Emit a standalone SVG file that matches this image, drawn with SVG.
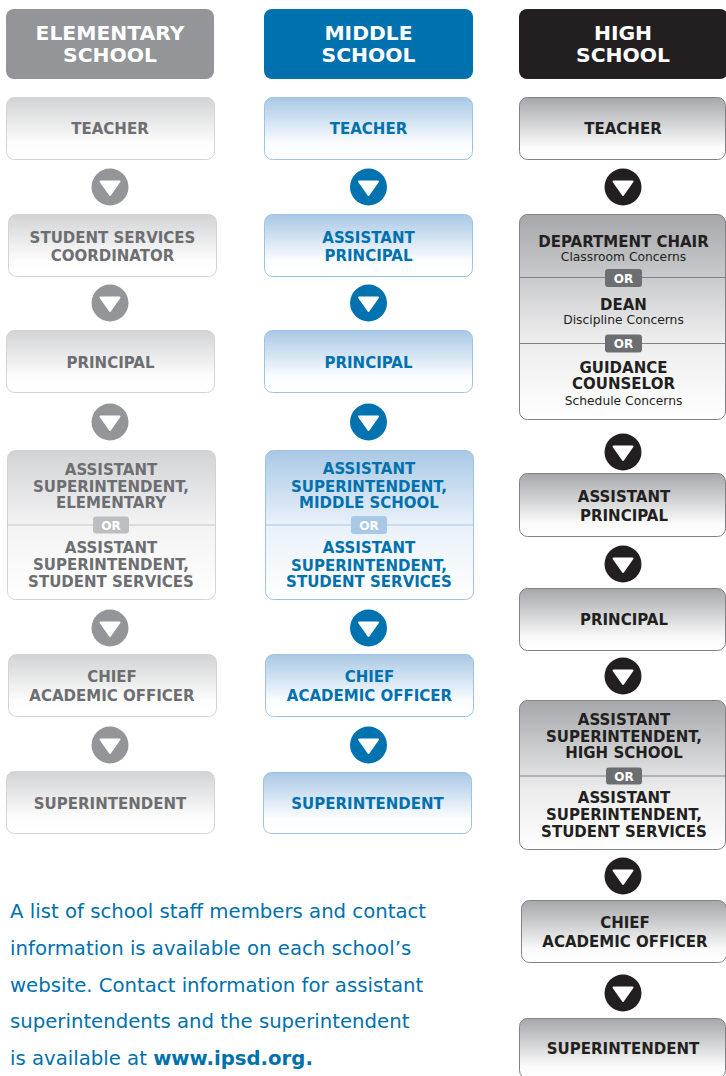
<svg xmlns="http://www.w3.org/2000/svg" width="726" height="1076" viewBox="0 0 726 1076">
<defs>
<linearGradient id="gE" x1="0" y1="0" x2="0" y2="1"><stop offset="0" stop-color="#d2d3d5"/><stop offset="0.75" stop-color="#fdfdfd"/><stop offset="1" stop-color="#ffffff"/></linearGradient>
<linearGradient id="gM" x1="0" y1="0" x2="0" y2="1"><stop offset="0" stop-color="#a9c8e5"/><stop offset="0.75" stop-color="#fbfdff"/><stop offset="1" stop-color="#ffffff"/></linearGradient>
<linearGradient id="gH" x1="0" y1="0" x2="0" y2="1"><stop offset="0" stop-color="#a5a7aa"/><stop offset="0.8" stop-color="#fbfbfb"/><stop offset="1" stop-color="#ffffff"/></linearGradient>
<linearGradient id="gE2" x1="0" y1="0" x2="0" y2="1"><stop offset="0" stop-color="#d2d3d5"/><stop offset="0.5" stop-color="#f3f3f4"/><stop offset="1" stop-color="#ffffff"/></linearGradient>
<linearGradient id="gM2" x1="0" y1="0" x2="0" y2="1"><stop offset="0" stop-color="#a9c8e5"/><stop offset="0.5" stop-color="#e9f1f9"/><stop offset="1" stop-color="#ffffff"/></linearGradient>
<linearGradient id="gH2" x1="0" y1="0" x2="0" y2="1"><stop offset="0" stop-color="#a5a7aa"/><stop offset="0.6" stop-color="#ececed"/><stop offset="1" stop-color="#ffffff"/></linearGradient>
<path id="tri" d="M -9.5 -5.5 L 9.5 -5.5 L 0 8 Z" fill="#fff" stroke="#fff" stroke-width="2" stroke-linejoin="round"/>
</defs>
<style>
text{font-family:"DejaVu Sans",Verdana,sans-serif;text-anchor:middle;font-weight:bold}
.h{font-size:20.3px;fill:#fff}
.n{font-size:15px}
.s{font-size:12.3px;font-weight:normal}
.or{font-size:12px;fill:#fff}
.e text{fill:#6d6e71}
.m text{fill:#0071ad}
.k text{fill:#231f20}
.e .bx{fill:url(#gE);stroke:#d1d3d4}
.m .bx{fill:url(#gM);stroke:#9cc3e5}
.k .bx{fill:url(#gH);stroke:#808285}
.e .bx2{fill:url(#gE2);stroke:#d1d3d4}
.m .bx2{fill:url(#gM2);stroke:#9cc3e5}
.k .bx2{fill:url(#gH2);stroke:#808285}
.e .dv{stroke:#c7c8ca}
.m .dv{stroke:#a9c8e5}
.k .dv{stroke:#808285}
.e .ob{fill:#bcbec0}
.m .ob{fill:#a7c9e6}
.k .ob{fill:#6d6e71}
.e text.or,.m text.or,.k text.or,text.h{fill:#fff}
.ce{fill:#939598}
.cm{fill:#0072b0}
.ck{fill:#231f20}
.ft{font-family:"DejaVu Sans",Tahoma,sans-serif;font-size:19.7px;font-weight:normal;text-anchor:start;fill:#0071ad}
</style>
<rect width="726" height="1076" fill="#fff"/>

<!-- Elementary -->
<g class="e">
<g id="e-head"><rect x="6" y="9" width="208" height="70" rx="8" fill="#939598"/><text class="h" x="110" y="40">ELEMENTARY</text><text class="h" x="110" y="61.5">SCHOOL</text></g>
<g id="e-teacher"><rect class="bx" x="6.5" y="97.5" width="208" height="62" rx="8"/><text class="n" x="110" y="134">TEACHER</text></g>
<g id="e-ssc"><rect class="bx" x="8.5" y="214.5" width="208" height="62" rx="8"/><text class="n" x="112.5" y="243">STUDENT SERVICES</text><text class="n" x="112.5" y="261">COORDINATOR</text></g>
<g id="e-principal"><rect class="bx" x="6.5" y="330.5" width="208" height="62" rx="8"/><text class="n" x="110.5" y="368">PRINCIPAL</text></g>
<g id="e-as"><rect class="bx2" x="7.5" y="450.5" width="208" height="149" rx="8"/><line class="dv" x1="7.5" y1="525" x2="215.5" y2="525"/><rect class="ob" x="93" y="516.5" width="36" height="17" rx="3"/><text class="or" x="111" y="530">OR</text>
<text class="n" x="111" y="475">ASSISTANT</text><text class="n" x="111" y="492">SUPERINTENDENT,</text><text class="n" x="111" y="508">ELEMENTARY</text>
<text class="n" x="111" y="553">ASSISTANT</text><text class="n" x="111" y="570">SUPERINTENDENT,</text><text class="n" x="111" y="587">STUDENT SERVICES</text></g>
<g id="e-cao"><rect class="bx" x="8.5" y="654.5" width="208" height="62" rx="8"/><text class="n" x="112" y="682">CHIEF</text><text class="n" x="112" y="701">ACADEMIC OFFICER</text></g>
<g id="e-super"><rect class="bx" x="6.5" y="771.5" width="208" height="62" rx="8"/><text class="n" x="110" y="809">SUPERINTENDENT</text></g>
</g>

<!-- Middle -->
<g class="m">
<g id="m-head"><rect x="264" y="9" width="209" height="70" rx="8" fill="#0071af"/><text class="h" x="368.5" y="40">MIDDLE</text><text class="h" x="368.5" y="61.5">SCHOOL</text></g>
<g id="m-teacher"><rect class="bx" x="264.5" y="97.5" width="208" height="62" rx="8"/><text class="n" x="368.5" y="134">TEACHER</text></g>
<g id="m-ap"><rect class="bx" x="264.5" y="214.5" width="208" height="62" rx="8"/><text class="n" x="368.5" y="243">ASSISTANT</text><text class="n" x="368.5" y="261">PRINCIPAL</text></g>
<g id="m-principal"><rect class="bx" x="264.5" y="330.5" width="208" height="62" rx="8"/><text class="n" x="368.5" y="368">PRINCIPAL</text></g>
<g id="m-as"><rect class="bx2" x="265.5" y="450.5" width="208" height="149" rx="8"/><line class="dv" x1="265.5" y1="525" x2="473.5" y2="525"/><rect class="ob" x="351" y="516" width="36" height="18" rx="3"/><text class="or" x="369" y="530">OR</text>
<text class="n" x="369" y="474">ASSISTANT</text><text class="n" x="369" y="492">SUPERINTENDENT,</text><text class="n" x="369" y="508">MIDDLE SCHOOL</text>
<text class="n" x="369" y="553">ASSISTANT</text><text class="n" x="369" y="571">SUPERINTENDENT,</text><text class="n" x="369" y="587">STUDENT SERVICES</text></g>
<g id="m-cao"><rect class="bx" x="265.5" y="654.5" width="208" height="62" rx="8"/><text class="n" x="369.5" y="682">CHIEF</text><text class="n" x="369.5" y="701">ACADEMIC OFFICER</text></g>
<g id="m-super"><rect class="bx" x="263.5" y="772.5" width="208" height="61" rx="8"/><text class="n" x="367.5" y="809">SUPERINTENDENT</text></g>
</g>

<!-- High -->
<g class="k">
<g id="h-head"><rect x="519" y="9" width="209" height="70" rx="8" fill="#231f20"/><text class="h" x="623" y="40">HIGH</text><text class="h" x="623" y="61.5">SCHOOL</text></g>
<g id="h-teacher"><rect class="bx" x="519.5" y="97.5" width="206" height="62" rx="8"/><text class="n" x="623" y="134">TEACHER</text></g>
<g id="h-dept"><rect class="bx2" x="519.5" y="214.5" width="206" height="205" rx="8"/>
<line class="dv" x1="519.5" y1="277.5" x2="725.5" y2="277.5"/><line class="dv" x1="519.5" y1="343.5" x2="725.5" y2="343.5"/>
<rect class="ob" x="605" y="269" width="37" height="18" rx="3"/><text class="or" x="623.5" y="282.5">OR</text>
<rect class="ob" x="605" y="334.5" width="37" height="18" rx="3"/><text class="or" x="623.5" y="348">OR</text>
<text class="n" x="623.5" y="247">DEPARTMENT CHAIR</text><text class="s" x="623.5" y="260.5">Classroom Concerns</text>
<text class="n" x="623.5" y="310">DEAN</text><text class="s" x="623.5" y="324">Discipline Concerns</text>
<text class="n" x="623.5" y="373">GUIDANCE</text><text class="n" x="623.5" y="389">COUNSELOR</text><text class="s" x="623.5" y="405">Schedule Concerns</text></g>
<g id="h-ap"><rect class="bx" x="519.5" y="473.5" width="206" height="63" rx="8"/><text class="n" x="624" y="502">ASSISTANT</text><text class="n" x="624" y="521">PRINCIPAL</text></g>
<g id="h-principal"><rect class="bx" x="519.5" y="588.5" width="206" height="62" rx="8"/><text class="n" x="624" y="625">PRINCIPAL</text></g>
<g id="h-as"><rect class="bx2" x="519.5" y="700.5" width="206" height="149" rx="8"/><line class="dv" x1="519.5" y1="776" x2="725.5" y2="776"/><rect class="ob" x="606" y="767.5" width="36" height="17" rx="3"/><text class="or" x="624" y="781">OR</text>
<text class="n" x="624" y="725">ASSISTANT</text><text class="n" x="624" y="742">SUPERINTENDENT,</text><text class="n" x="624" y="758">HIGH SCHOOL</text>
<text class="n" x="624" y="803">ASSISTANT</text><text class="n" x="624" y="820">SUPERINTENDENT,</text><text class="n" x="624" y="837">STUDENT SERVICES</text></g>
<g id="h-cao"><rect class="bx" x="521.5" y="900.5" width="205" height="62" rx="8"/><text class="n" x="625" y="928">CHIEF</text><text class="n" x="625" y="947">ACADEMIC OFFICER</text></g>
<g id="h-super"><rect class="bx" x="519.5" y="1018.5" width="206" height="60" rx="8"/><text class="n" x="623" y="1054">SUPERINTENDENT</text></g>
</g>

<!-- Connectors -->
<g id="connectors">
<g class="ce"><circle cx="110" cy="187" r="18.5"/><circle cx="110" cy="303" r="18.5"/><circle cx="110" cy="422" r="18.5"/><circle cx="110" cy="628" r="18.5"/><circle cx="110" cy="745" r="18.5"/></g>
<use href="#tri" x="110" y="187"/><use href="#tri" x="110" y="303"/><use href="#tri" x="110" y="422"/><use href="#tri" x="110" y="628"/><use href="#tri" x="110" y="745"/>
<g class="cm"><circle cx="368.5" cy="187" r="18.5"/><circle cx="368.5" cy="303" r="18.5"/><circle cx="368.5" cy="422" r="18.5"/><circle cx="368.5" cy="628" r="18.5"/><circle cx="368.5" cy="745" r="18.5"/></g>
<use href="#tri" x="368.5" y="187"/><use href="#tri" x="368.5" y="303"/><use href="#tri" x="368.5" y="422"/><use href="#tri" x="368.5" y="628"/><use href="#tri" x="368.5" y="745"/>
<g class="ck"><circle cx="623" cy="187" r="18.5"/><circle cx="623" cy="452" r="18.5"/><circle cx="623" cy="564" r="18.5"/><circle cx="623" cy="676" r="18.5"/><circle cx="623" cy="876" r="18.5"/><circle cx="623" cy="993" r="18.5"/></g>
<use href="#tri" x="623" y="187"/><use href="#tri" x="623" y="452"/><use href="#tri" x="623" y="564"/><use href="#tri" x="623" y="676"/><use href="#tri" x="623" y="876"/><use href="#tri" x="623" y="993"/>
</g>

<!-- Footer note -->
<g id="note">
<text class="ft" x="10" y="918">A list of school staff members and contact</text>
<text class="ft" x="10" y="955">information is available on each school’s</text>
<text class="ft" x="10" y="992">website. Contact information for assistant</text>
<text class="ft" x="10" y="1028">superintendents and the superintendent</text>
<text class="ft" x="10" y="1065">is available at <tspan font-weight="bold">www.ipsd.org.</tspan></text>
</g>
</svg>
